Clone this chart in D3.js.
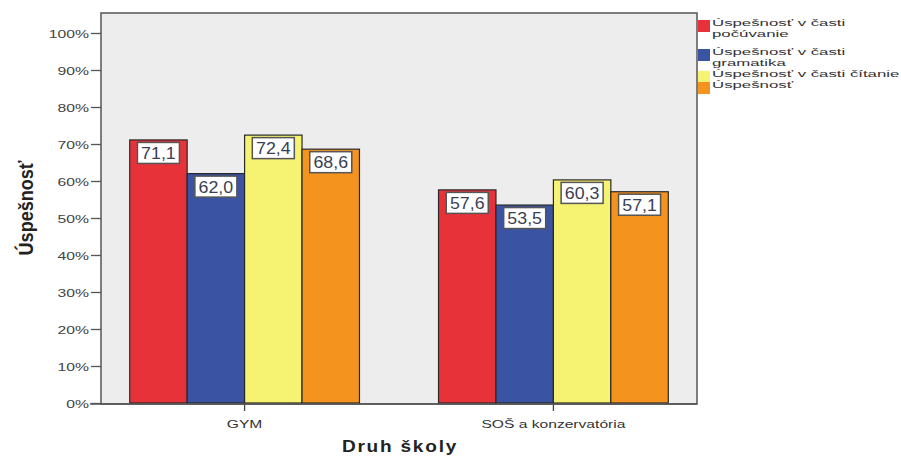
<!DOCTYPE html>
<html><head><meta charset="utf-8">
<script src="https://cdn.jsdelivr.net/npm/d3@7"></script>
<style>body{margin:0;background:#fff}svg{display:block;font-family:"Liberation Sans",Arial,sans-serif}</style>
</head><body><svg id="c" width="901" height="456"></svg>
<script>
const categories = ["GYM", "SOŠ a konzervatória"];
const seriesNames = ["Úspešnosť v časti počúvanie", "Úspešnosť v časti gramatika", "Úspešnosť v časti čítanie", "Úspešnosť"];
const legendLines = [["Úspešnosť v časti", "počúvanie"], ["Úspešnosť v časti", "gramatika"], ["Úspešnosť v časti čítanie"], ["Úspešnosť"]];
const pocuvanie = [71.1, 57.6];
const gramatika = [62.0, 53.5];
const citanie = [72.4, 60.3];
const uspesnost = [68.6, 57.1];
const yTicks = [0, 10, 20, 30, 40, 50, 60, 70, 80, 90, 100];
const colors = ["#e8323a", "#3a53a3", "#f6f272", "#f5931f"];

const series = [pocuvanie, gramatika, citanie, uspesnost];
const svg = d3.select("#c");
const L = 101, R = 697, T = 13, B = 404;
const y = d3.scaleLinear().domain([0, 100]).range([403, 33]);
const x0 = d3.scaleBand().domain(categories).range([L, R]).paddingInner(0.256).paddingOuter(0.093);
const x1 = d3.scaleBand().domain(d3.range(series.length)).range([0, x0.bandwidth()]);

function stext(g, x, yy, sx, sy, t) {
  return g.append("text").attr("transform", `translate(${x},${yy}) scale(${sx},${sy})`).text(t);
}

svg.append("rect").attr("x", L).attr("y", T).attr("width", R - L).attr("height", B - T)
  .attr("fill", "#ededed").attr("stroke", "#555").attr("stroke-width", 1.5);

// y axis
const ya = svg.append("g").attr("transform", `translate(${L},0)`)
  .call(d3.axisLeft(y).tickValues(yTicks).tickFormat(d => d + "%").tickSize(10));
ya.select(".domain").remove();
ya.selectAll("line").attr("stroke", "#555").attr("stroke-width", 1.3);
ya.selectAll(".tick text").each(function() {
  d3.select(this).attr("x", null).attr("dy", null)
   .attr("transform", "translate(-12,4) scale(1.43,1)")
   .attr("font-size", 11).attr("fill", "#444").attr("font-family", "Liberation Sans, Arial, sans-serif");
});

// bars
categories.forEach((c, ci) => {
  series.forEach((s, si) => {
    const bx = x0(c) + x1(si), bw = x1.bandwidth(), v = s[ci];
    svg.append("rect").attr("x", bx).attr("y", y(v)).attr("width", bw).attr("height", y(0) - y(v))
      .attr("fill", colors[si]).attr("stroke", "#2a2a2a").attr("stroke-width", 1.2);
    const lbl = v.toFixed(1).replace(".", ",");
    const cx = bx + bw / 2;
    svg.append("rect").attr("x", cx - 21).attr("y", y(v) + 2.5).attr("width", 42).attr("height", 21)
      .attr("fill", "#fff").attr("stroke", "#555").attr("stroke-width", 1.5);
    stext(svg, cx, y(v) + 19, 1.08, 1, lbl).attr("text-anchor", "middle")
      .attr("font-size", 16.5).attr("fill", "#3a3f55");
  });
});

// x axis
const xa = svg.append("g").attr("transform", `translate(0,${B})`)
  .call(d3.axisBottom(x0).tickSize(7));
xa.select(".domain").remove();
xa.selectAll("line").attr("stroke", "#444").attr("stroke-width", 1.3);
xa.selectAll(".tick text").each(function() {
  d3.select(this).attr("y", null).attr("dy", null)
    .attr("transform", "translate(0,24) scale(1.42,1)")
    .attr("font-size", 11).attr("fill", "#333").attr("font-family", "Liberation Sans, Arial, sans-serif");
});
svg.append("line").attr("x1", 90).attr("x2", R).attr("y1", B).attr("y2", B).attr("stroke", "#555").attr("stroke-width", 1.5);

// titles
stext(svg, 400, 452, 1.19, 1, "Druh školy").attr("text-anchor", "middle")
  .attr("font-size", 16).attr("font-weight", "bold").attr("fill", "#222").attr("letter-spacing", 1.5);
svg.append("text").attr("transform", "translate(33,208) rotate(-90) scale(1.29,1.4)").attr("text-anchor", "middle")
  .attr("font-size", 14).attr("font-weight", "bold").attr("fill", "#222").text("Úspešnosť");

// legend
const legY = [20, 49, 71, 82];
const lg = svg.append("g");
legendLines.forEach((lines, i) => {
  lg.append("rect").attr("x", 698).attr("y", legY[i]).attr("width", 12).attr("height", 12)
    .attr("fill", colors[i]);
  lines.forEach((t, j) => {
    stext(lg, 712, legY[i] + 6 + j * 11, 1.5, 0.86, t).attr("font-size", 11.2).attr("fill", "#333");
  });
});
</script></body></html>
